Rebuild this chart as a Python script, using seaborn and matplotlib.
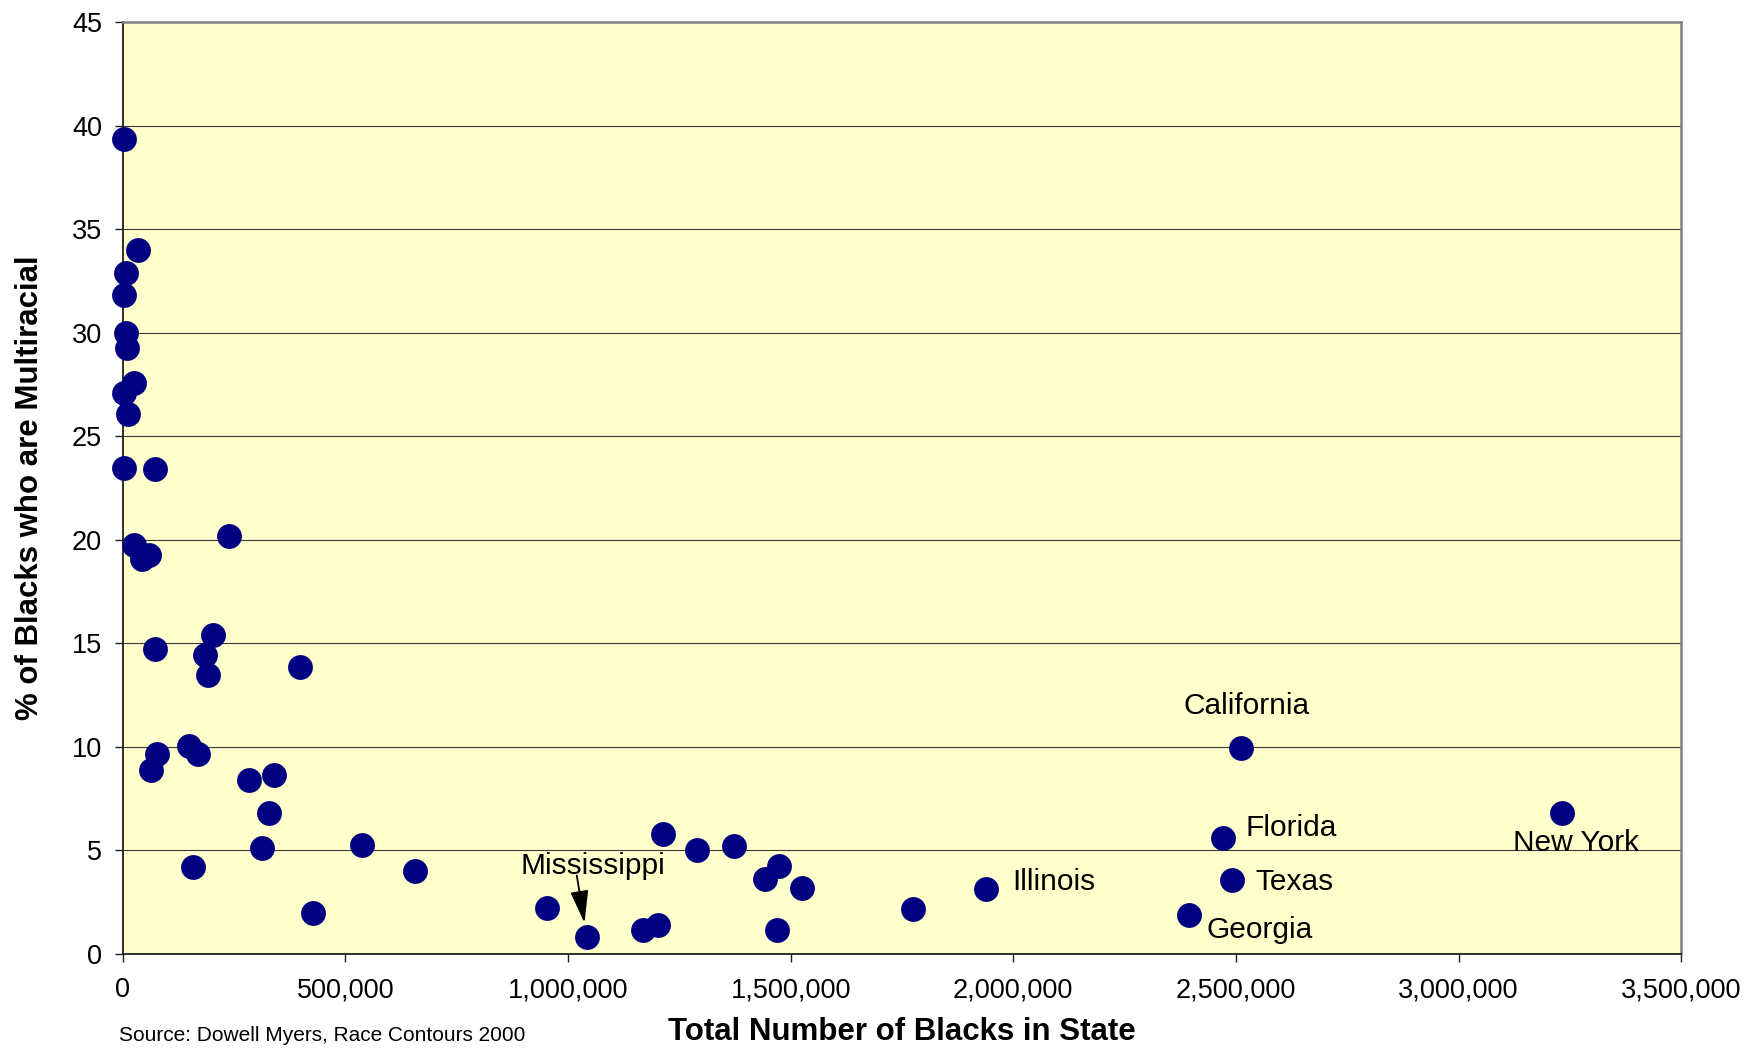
import matplotlib
matplotlib.use("Agg")
import matplotlib.pyplot as plt
from matplotlib.ticker import FuncFormatter, MultipleLocator
import seaborn as sns
import pandas as pd

# Black population per state (alone or in combination) and share reporting more than one race
black_pop = [
    3800, 33700, 7600, 3800, 7600, 9900, 24700, 3800, 12800, 3800, 72800,
    26300, 42700, 60000, 238000, 202000, 72800, 185700, 191000, 399000,
    76400, 62900, 149800, 170000, 284600, 339200, 327300, 312200, 157200,
    538400, 655800, 427600,
    953900, 1042200, 1169500, 1201700, 1212300, 1289200, 1373200, 1441300,
    1474900, 1525000, 1468900, 1775000,
    1937800, 2511500, 2471500, 2491500, 2393800, 3233200,
]
pct_multiracial = [
    39.38, 34.0, 32.87, 31.82, 29.97, 29.25, 27.59, 27.1, 26.06, 23.46, 23.41,
    19.75, 19.06, 19.27, 20.2, 15.41, 14.73, 14.43, 13.48, 13.85,
    9.67, 8.9, 10.05, 9.65, 8.38, 8.65, 6.79, 5.13, 4.17,
    5.24, 4.0, 1.95,
    2.19, 0.80, 1.17, 1.37, 5.81, 5.03, 5.23, 3.59,
    4.23, 3.17, 1.16, 2.18,
    3.15, 9.93, 5.57, 3.58, 1.86, 6.81,
]

# Named states: label, index into the arrays, text offset (points), alignment
labelled_states = ["California", "Florida", "Texas", "Georgia", "Illinois", "New York"]
labelled_index = [45, 46, 47, 48, 44, 49]
label_offsets = [(4, 25), (16, 1.6), (17, -7.2), (12.8, -16), (19.3, -0.8), (9.6, -27.3)]
label_align = ["center", "left", "left", "left", "left", "center"]

arrow_state = "Mississippi"
arrow_index = 33

df = pd.DataFrame({"blacks": black_pop, "pct": pct_multiracial})

sns.set_style("white")
plt.rcParams["font.family"] = ["Liberation Sans", "DejaVu Sans"]

fig = plt.figure(figsize=(17.49, 10.48), dpi=100)
ax = fig.add_axes([0.0702, 0.0899, 0.891, 0.8888])
ax.set_facecolor("#FFFFCC")

sns.scatterplot(data=df, x="blacks", y="pct", ax=ax, color="#000080",
                s=320, linewidth=0, zorder=3, legend=False, clip_on=False)

ax.set_xlim(0, 3500000)
ax.set_ylim(0, 45)
ax.xaxis.set_major_locator(MultipleLocator(500000))
ax.yaxis.set_major_locator(MultipleLocator(5))
ax.xaxis.set_major_formatter(FuncFormatter(lambda v, p: f"{int(v):,}"))
ax.yaxis.set_major_formatter(FuncFormatter(lambda v, p: f"{int(v)}"))

ax.grid(axis="y", color="#3a3a3a", linewidth=0.8, zorder=1)
ax.grid(axis="x", visible=False)
ax.set_axisbelow(True)

for side in ("left", "bottom"):
    ax.spines[side].set_color("#202020")
    ax.spines[side].set_linewidth(1.3)
for side in ("top", "right"):
    ax.spines[side].set_color("#808080")
    ax.spines[side].set_linewidth(1.8)

ax.tick_params(axis="both", direction="out", length=6, width=1.0,
               color="#202020", labelsize=19.5, labelcolor="black",
               bottom=True, left=True)
ax.tick_params(axis="x", pad=11)
ax.tick_params(axis="y", pad=9)

ax.set_xlabel("Total Number of Blacks in State", fontsize=22.5,
              fontweight="bold", color="black")
ax.set_ylabel("% of Blacks who are Multiracial", fontsize=22.5,
              fontweight="bold", color="black")
ax.xaxis.set_label_coords(0.5, -0.0839)
ax.xaxis.label.set_va("center")
ax.yaxis.set_label_coords(-0.0595, 0.5)
ax.yaxis.label.set_va("center")

for name, idx, off, ha in zip(labelled_states, labelled_index, label_offsets, label_align):
    ax.annotate(name, xy=(black_pop[idx], pct_multiracial[idx]), xytext=off,
                textcoords="offset points", ha=ha, va="baseline",
                fontsize=21.5, color="black", zorder=4)

mx, my = black_pop[arrow_index], pct_multiracial[arrow_index]
ax.annotate(arrow_state, xy=(mx, my), xytext=(4.2, 45.6),
            textcoords="offset points", ha="center", va="baseline",
            fontsize=21.5, color="black", zorder=4)
ax.annotate("", xy=(mx, my), xytext=(-7.2, 44.4), textcoords="offset points",
            arrowprops=dict(arrowstyle="-|>,head_length=1.0,head_width=0.28",
                            color="black", lw=1.3, shrinkA=0, shrinkB=10.5,
                            mutation_scale=20),
            zorder=4)

fig.text(0.068, 0.0115, "Source: Dowell Myers, Race Contours 2000",
         fontsize=15, ha="left", va="center", color="black")

fig.savefig("out.png", dpi=100)
